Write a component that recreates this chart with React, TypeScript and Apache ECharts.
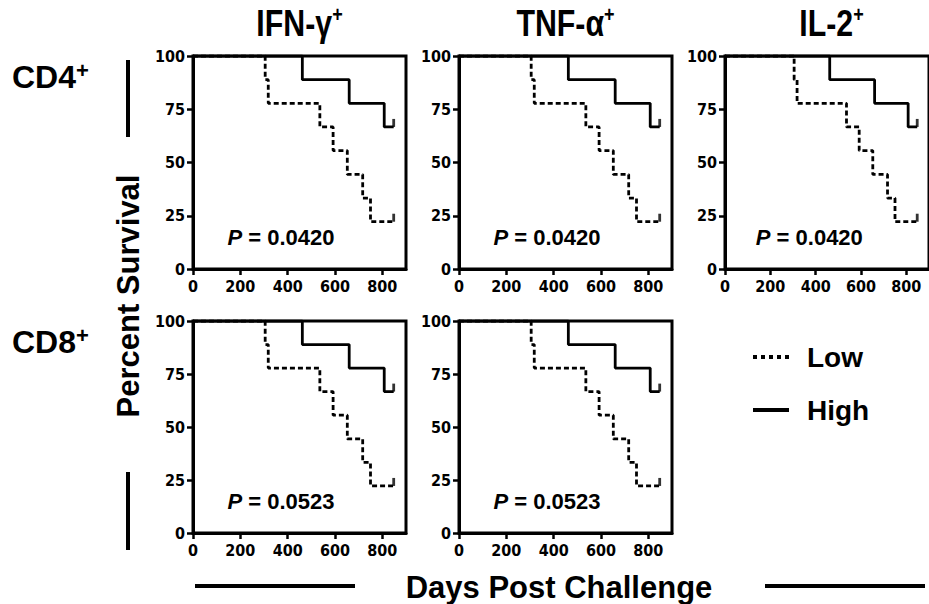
import React, { useEffect, useRef } from "react";
import * as echarts from "echarts";

// ---- data ----
const lowTimes = [0, 305, 318, 536, 592, 652, 717, 750, 848];
const lowSurvival = [100, 88.9, 77.8, 66.7, 55.6, 44.4, 33.3, 22.2, 22.2];
const highTimes = [0, 462, 660, 808, 848];
const highSurvival = [100, 88.9, 77.8, 66.7, 66.7];
const censorTime = 848;
const panelTitles = ["IFN-γ", "TNF-α", "IL-2"];
const rowLabels = ["CD4", "CD8"];
const pValues = ["0.0420", "0.0420", "0.0420", "0.0523", "0.0523"];
const xTicks = [0, 200, 400, 600, 800];
const yTicks = [0, 25, 50, 75, 100];
const seriesNames = ["Low", "High"];

// ---- layout ----
const W = 929;
const H = 604;
const colLeft = [193, 459, 725];
const rowTop = [56, 321];
const gridW = 213;
const gridH = [213, 212];
const panels = [
  { r: 0, c: 0 },
  { r: 0, c: 1 },
  { r: 0, c: 2 },
  { r: 1, c: 0 },
  { r: 1, c: 1 },
];

const ARIAL = '"Liberation Sans", Arial, Helvetica, sans-serif';
const NARROW = '"Liberation Sans Narrow", "Arial Narrow", "DejaVu Sans Condensed", "Liberation Sans", sans-serif';

const DOTS_ICON = "path://M0,0h4v4h-4z M8,0h4v4h-4z M16,0h4v4h-4z M24,0h4v4h-4z M32,0h4v4h-4z";
const BAR_ICON = "path://M0,0h36v4h-36z";

function zip(a: number[], b: number[]) {
  return a.map((v, i) => [v, b[i]]);
}

function buildOption() {
  const grid: any[] = [];
  const xAxis: any[] = [];
  const yAxis: any[] = [];
  const series: any[] = [];

  panels.forEach((p, i) => {
    grid.push({
      left: colLeft[p.c],
      top: rowTop[p.r],
      width: gridW,
      height: gridH[p.r],
      show: true,
      borderColor: "#000",
      borderWidth: 3,
      backgroundColor: "transparent",
      containLabel: false,
    });
    xAxis.push({
      type: "value",
      gridIndex: i,
      min: 0,
      max: 900,
      interval: 200,
      splitLine: { show: false },
      axisLine: { show: true, onZero: false, lineStyle: { color: "#000", width: 3 } },
      axisTick: {
        show: true,
        length: 6,
        lineStyle: { color: "#000", width: 2.5 },
        customValues: xTicks,
      },
      axisLabel: {
        show: true,
        customValues: xTicks,
        color: "#000",
        fontFamily: NARROW,
        fontWeight: "bold",
        fontSize: 16,
        margin: 9,
      },
    });
    yAxis.push({
      type: "value",
      gridIndex: i,
      min: 0,
      max: 100,
      interval: 25,
      splitLine: { show: false },
      axisLine: { show: true, onZero: false, lineStyle: { color: "#000", width: 3 } },
      axisTick: { show: true, length: 6, lineStyle: { color: "#000", width: 2.5 } },
      axisLabel: {
        show: true,
        color: "#000",
        fontFamily: NARROW,
        fontWeight: "bold",
        fontSize: 16,
        margin: 8,
      },
    });

    series.push({
      name: seriesNames[0],
      type: "line",
      xAxisIndex: i,
      yAxisIndex: i,
      step: "end",
      symbol: "none",
      silent: true,
      lineStyle: { color: "#000", width: 2.8, type: [5, 3] },
      itemStyle: { color: "#000" },
      data: zip(lowTimes, lowSurvival),
    });
    series.push({
      name: seriesNames[1],
      type: "line",
      xAxisIndex: i,
      yAxisIndex: i,
      step: "end",
      symbol: "none",
      silent: true,
      lineStyle: { color: "#000", width: 2.8, type: "solid" },
      itemStyle: { color: "#000" },
      data: zip(highTimes, highSurvival),
      markPoint: {
        silent: true,
        symbol: "circle",
        symbolSize: 0,
        data: [{ coord: [372, 15], value: 0 }],
        label: {
          show: true,
          position: "inside",
          formatter: "{p|P}{t| = " + pValues[i] + "}",
          rich: {
            p: { fontFamily: ARIAL, fontStyle: "italic", fontWeight: "bold", fontSize: 22, color: "#000" },
            t: { fontFamily: ARIAL, fontWeight: "bold", fontSize: 22, color: "#000" },
          },
        },
      },
    });
    series.push({
      type: "scatter",
      xAxisIndex: i,
      yAxisIndex: i,
      silent: true,
      symbol: "rect",
      symbolSize: [2.8, 8],
      symbolOffset: [0, -4],
      itemStyle: { color: "#000" },
      data: [
        [censorTime, lowSurvival[lowSurvival.length - 1]],
        [censorTime, highSurvival[highSurvival.length - 1]],
      ],
    });
  });

  const graphic: any[] = [];
  panelTitles.forEach((t, c) => {
    graphic.push({
      type: "text",
      x: colLeft[c] + gridW / 2,
      y: 23,
      scaleX: 0.82,
      style: {
        text: "{m|" + t + "}{s|+}",
        align: "center",
        verticalAlign: "middle",
        rich: {
          m: { fontFamily: ARIAL, fontWeight: "bold", fontSize: 37, lineHeight: 40, fill: "#000" },
          s: { fontFamily: ARIAL, fontWeight: "bold", fontSize: 22, lineHeight: 24, verticalAlign: "top", fill: "#000" },
        },
      },
    });
  });
  rowLabels.forEach((t, r) => {
    graphic.push({
      type: "text",
      x: 12,
      y: rowTop[r] + 21,
      style: {
        text: "{m|" + t + "}{s|+}",
        align: "left",
        verticalAlign: "middle",
        rich: {
          m: { fontFamily: ARIAL, fontWeight: "bold", fontSize: 32, lineHeight: 36, fill: "#000" },
          s: { fontFamily: ARIAL, fontWeight: "bold", fontSize: 22, lineHeight: 22, verticalAlign: "top", fill: "#000" },
        },
      },
    });
  });
  // y-title decorations
  graphic.push({ type: "line", shape: { x1: 128, y1: 60, x2: 128, y2: 137 }, style: { stroke: "#000", lineWidth: 4 } });
  graphic.push({ type: "line", shape: { x1: 128, y1: 472, x2: 128, y2: 550 }, style: { stroke: "#000", lineWidth: 4 } });
  graphic.push({
    type: "text",
    x: 128,
    y: 296,
    rotation: Math.PI / 2,
    style: {
      text: "Percent Survival",
      fontFamily: ARIAL,
      fontWeight: "bold",
      fontSize: 31,
      fill: "#000",
      align: "center",
      verticalAlign: "middle",
    },
  });
  // x-title decorations
  graphic.push({ type: "line", shape: { x1: 195, y1: 586, x2: 355, y2: 586 }, style: { stroke: "#000", lineWidth: 4 } });
  graphic.push({ type: "line", shape: { x1: 765, y1: 586, x2: 925, y2: 586 }, style: { stroke: "#000", lineWidth: 4 } });
  graphic.push({
    type: "text",
    x: 559,
    y: 587,
    style: {
      text: "Days Post Challenge",
      fontFamily: ARIAL,
      fontWeight: "bold",
      fontSize: 31,
      fill: "#000",
      align: "center",
      verticalAlign: "middle",
    },
  });

  return {
    animation: false,
    backgroundColor: "#fff",
    grid,
    xAxis,
    yAxis,
    series,
    graphic,
    legend: {
      show: true,
      orient: "vertical",
      left: 748,
      top: 337,
      itemWidth: 38,
      itemHeight: 4,
      itemGap: 23,
      selectedMode: false,
      itemStyle: { color: "#000", borderWidth: 0 },
      textStyle: {
        fontFamily: ARIAL,
        fontWeight: "bold",
        fontSize: 28,
        lineHeight: 30,
        color: "#000",
        padding: [0, 0, 0, 12],
      },
      data: [
        { name: "Low", icon: DOTS_ICON },
        { name: "High", icon: BAR_ICON },
      ],
    },
  };
}

export default function App() {
  const ref = useRef<HTMLDivElement>(null);
  useEffect(() => {
    document.body.style.margin = "0";
    const chart = echarts.init(ref.current as HTMLDivElement, null, { renderer: "svg" });
    chart.setOption(buildOption() as any);
    return () => {
      chart.dispose();
    };
  }, []);
  return (
    <div
      ref={ref}
      style={{ position: "fixed", left: 0, top: 0, width: W, height: H, background: "#fff" }}
    />
  );
}
